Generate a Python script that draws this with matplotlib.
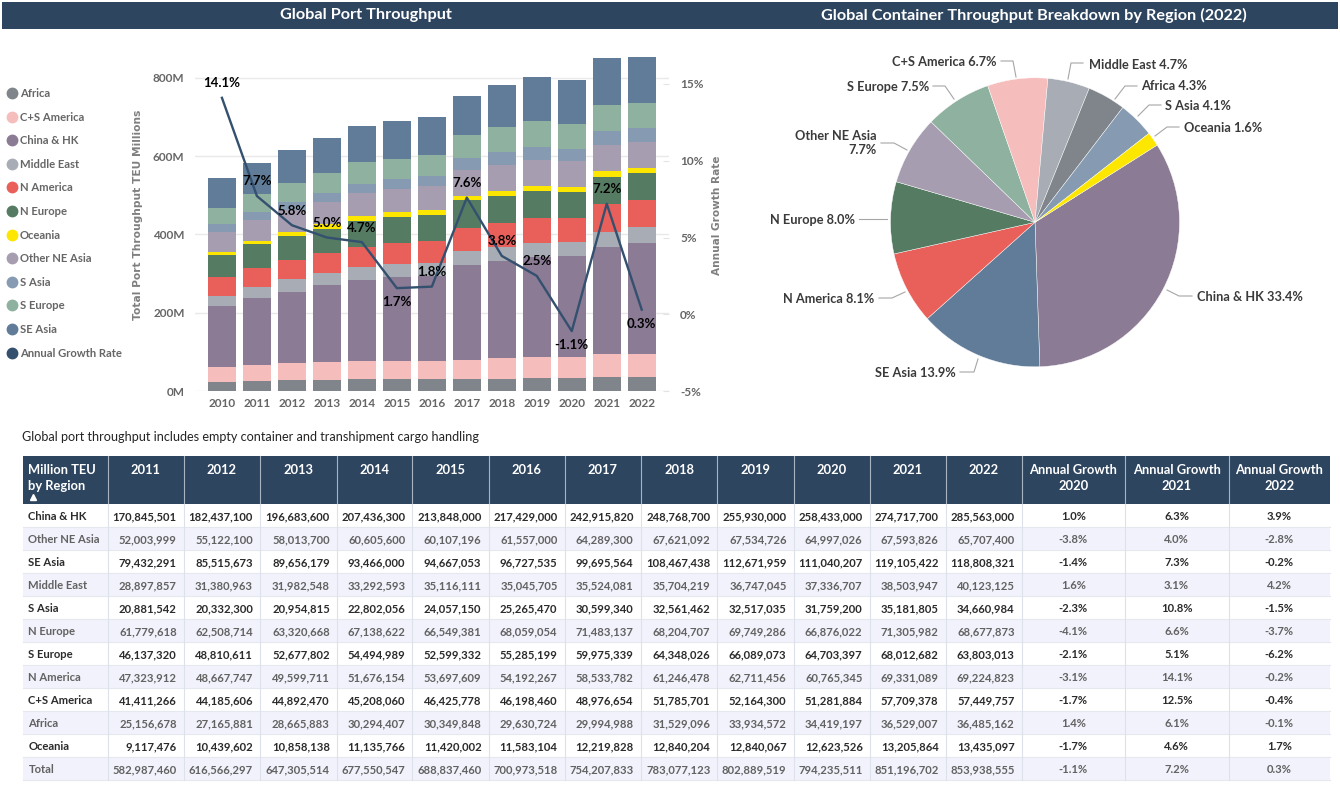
"""
plot.py - Global port throughput dashboard (stacked bars, pie, table).
"""

import matplotlib
matplotlib.use('Agg')
import matplotlib.pyplot as plt
from matplotlib.lines import Line2D
from matplotlib.patches import Rectangle
from matplotlib.ticker import FuncFormatter

plt.rcParams['font.family'] = ['Lato', 'DejaVu Sans']

W, H = 1340, 785

years = [2010, 2011, 2012, 2013, 2014, 2015, 2016, 2017, 2018, 2019, 2020, 2021, 2022]
table_years = years[1:]

# Table values 2011-2022 (TEU)
china_hk = [170845501, 182437100, 196683600, 207436300, 213848000, 217429000, 242915820, 248768700, 255930000, 258433000, 274717700, 285563000]
other_ne_asia = [52003999, 55122100, 58013700, 60605600, 60107196, 61557000, 64289300, 67621092, 67534726, 64997026, 67593826, 65707400]
se_asia = [79432291, 85515673, 89656179, 93466000, 94667053, 96727535, 99695564, 108467438, 112671959, 111040207, 119105422, 118808321]
middle_east = [28897857, 31380963, 31982548, 33292593, 35116111, 35045705, 35524081, 35704219, 36747045, 37336707, 38503947, 40123125]
s_asia = [20881542, 20332300, 20954815, 22802056, 24057150, 25265470, 30599340, 32561462, 32517035, 31759200, 35181805, 34660984]
n_europe = [61779618, 62508714, 63320668, 67138622, 66549381, 68059054, 71483137, 68204707, 69749286, 66876022, 71305982, 68677873]
s_europe = [46137320, 48810611, 52677802, 54494989, 52599332, 55285199, 59975339, 64348026, 66089073, 64703397, 68012682, 63803013]
n_america = [47323912, 48667747, 49599711, 51676154, 53697609, 54192267, 58533782, 61246478, 62711456, 60765345, 69331089, 69224823]
cs_america = [41411266, 44185606, 44892470, 45208060, 46425778, 46198460, 48976654, 51785701, 52164300, 51281884, 57709378, 57449757]
africa = [25156678, 27165881, 28665883, 30294407, 30349848, 29630724, 29994988, 31529096, 33934572, 34419197, 36529007, 36485162]
oceania = [9117476, 10439602, 10858138, 11135766, 11420002, 11583104, 12219828, 12840204, 12840067, 12623526, 13205864, 13435097]
totals = [582987460, 616566297, 647305514, 677550547, 688837460, 700973518, 754207833, 783077123, 802889519, 794235511, 851196702, 853938555]

# 2010 is not in the table (million TEU)
africa_2010 = 22
cs_america_2010 = 38.5
china_hk_2010 = 156
middle_east_2010 = 25.5
n_america_2010 = 48.5
n_europe_2010 = 56
oceania_2010 = 10
other_ne_asia_2010 = 49
s_asia_2010 = 20.5
s_europe_2010 = 41
se_asia_2010 = 77

growth_rate = [14.1, 7.7, 5.8, 5.0, 4.7, 1.7, 1.8, 7.6, 3.8, 2.5, -1.1, 7.2, 0.3]

# Annual growth columns, same order as table rows
growth_2020 = ['1.0%', '-3.8%', '-1.4%', '1.6%', '-2.3%', '-4.1%', '-2.1%', '-3.1%', '-1.7%', '1.4%', '-1.7%', '-1.1%']
growth_2021 = ['6.3%', '4.0%', '7.3%', '3.1%', '10.8%', '6.6%', '5.1%', '14.1%', '12.5%', '6.1%', '4.6%', '7.2%']
growth_2022 = ['3.9%', '-2.8%', '-0.2%', '4.2%', '-1.5%', '-3.7%', '-6.2%', '-0.2%', '-0.4%', '-0.1%', '1.7%', '0.3%']

HEADER = '#2E4560'
LABEL_GREY = '#7F7F7F'
TICK_GREY = '#666666'
TEXT_DARK = '#3A3A3A'
LINE_COLOR = '#34506F'

# Stack order, bottom to top
stack = [
    ('Africa', africa, africa_2010, '#7F858A'),
    ('C+S America', cs_america, cs_america_2010, '#F5BEBD'),
    ('China & HK', china_hk, china_hk_2010, '#8B7B95'),
    ('Middle East', middle_east, middle_east_2010, '#A8ADB5'),
    ('N America', n_america, n_america_2010, '#E9605B'),
    ('N Europe', n_europe, n_europe_2010, '#557B62'),
    ('Oceania', oceania, oceania_2010, '#FDE600'),
    ('Other NE Asia', other_ne_asia, other_ne_asia_2010, '#A69DB0'),
    ('S Asia', s_asia, s_asia_2010, '#869BB2'),
    ('S Europe', s_europe, s_europe_2010, '#8FB1A0'),
    ('SE Asia', se_asia, se_asia_2010, '#607C98'),
]
colors = {name: c for name, _, _, c in stack}


def px_axes(left, top, right, bottom):
    """Axes placed by pixel edges, y measured from the top of the image."""
    return fig.add_axes([left / W, 1 - bottom / H, (right - left) / W, (bottom - top) / H])


fig = plt.figure(figsize=(W / 100, H / 100), dpi=100, facecolor='white')

# Overlay in pixel coordinates for title bars, legend leaders and the table
bg = fig.add_axes([0, 0, 1, 1], zorder=0)
bg.set_xlim(0, W)
bg.set_ylim(H, 0)
bg.axis('off')

bg.add_patch(Rectangle((2, 2), 1336, 27, color=HEADER, lw=0))
bg.text(366, 15, 'Global Port Throughput', color='white', fontsize=11.7, fontweight='bold', ha='center', va='center')
bg.text(1034, 15, 'Global Container Throughput Breakdown by Region (2022)', color='white', fontsize=11.7,
        fontweight='bold', ha='center', va='center')

# --- Stacked bars with growth line ---
ax = px_axes(195, 50, 669, 391)
ax.set_zorder(1)
ax.patch.set_alpha(0)
bottom = [0.0] * len(years)
for name, values, v2010, color in stack:
    heights = [v2010] + [v / 1e6 for v in values]
    ax.bar(years, heights, width=0.8, bottom=bottom, color=color, zorder=2, label=name)
    bottom = [b + h for b, h in zip(bottom, heights)]

ax.set_xlim(2010 - 0.77, 2022 + 0.78)
ax.set_ylim(0, 341 / 0.39125)
ax.set_yticks([0, 200, 400, 600, 800])
ax.yaxis.set_major_formatter(FuncFormatter(lambda v, _: f'{v:.0f}M'))
ax.set_xticks(years)
ax.grid(axis='y', color='#E9E9E9', lw=1, zorder=0)
ax.tick_params(length=0, labelsize=8.5, labelcolor=TICK_GREY, pad=5)
ax.tick_params(axis='y', pad=7.5)
for lab in ax.get_xticklabels() + ax.get_yticklabels():
    lab.set_fontweight('bold')
for s in ax.spines.values():
    s.set_visible(False)
ax.set_ylabel('Total Port Throughput TEU Millions', family='DejaVu Sans', fontsize=7.7, fontweight='bold',
              color=LABEL_GREY)
ax.yaxis.set_label_coords(-52 / 474, 0.516)

ax2 = ax.twinx()
ax2.set_ylim(-5, -5 + 341 / 15.35)
ax2.set_yticks([-5, 0, 5, 10, 15])
ax2.yaxis.set_major_formatter(FuncFormatter(lambda v, _: f'{v:.0f}%'))
ax2.tick_params(axis='y', direction='in', length=4.5, color='#E4E4E4', labelsize=8.5, labelcolor=TICK_GREY, pad=8)
for lab in ax2.get_yticklabels():
    lab.set_fontweight('bold')
for s in ax2.spines.values():
    s.set_visible(False)
ax2.set_ylabel('Annual Growth Rate', family='DejaVu Sans', fontsize=7.6, fontweight='bold', color=LABEL_GREY)
ax2.yaxis.set_label_coords(1 + 42.5 / 474, 0.516)
ax2.plot(years, growth_rate, color=LINE_COLOR, lw=1.7, zorder=5)

below = {2015, 2020, 2022}
for yr, g in zip(years, growth_rate):
    dy = -10 if yr in below else 10.5
    ax2.annotate(f'{g:.1f}%', (yr, g), xytext=(0, dy), textcoords='offset points', ha='center', va='center',
                 fontsize=9.5, fontweight='bold', color='black', zorder=6)

# --- Legend ---
handles = [Line2D([], [], ls='none', marker='o', ms=7.5, color=c, label=n) for n, _, _, c in stack]
handles.append(Line2D([], [], ls='none', marker='o', ms=7.5, color=LINE_COLOR, label='Annual Growth Rate'))
leg = fig.legend(handles=handles, loc='upper left', bbox_to_anchor=(5 / W, 1 - 88 / H), frameon=False,
                 labelspacing=1.12, handletextpad=0.1, handlelength=1.2, borderpad=0, borderaxespad=0,
                 labelcolor=TICK_GREY, prop={'weight': 'bold', 'size': 8.1})

# --- Pie ---
pie_regions = ['China & HK', 'SE Asia', 'N America', 'N Europe', 'Other NE Asia', 'S Europe', 'C+S America',
               'Middle East', 'Africa', 'S Asia', 'Oceania']
pie_values = [china_hk[-1], se_asia[-1], n_america[-1], n_europe[-1], other_ne_asia[-1], s_europe[-1],
              cs_america[-1], middle_east[-1], africa[-1], s_asia[-1], oceania[-1]]
pie_total = sum(pie_values)

ax_pie = px_axes(1035 - 144.5, 222.3 - 144.5, 1035 + 144.5, 222.3 + 144.5)
ax_pie.pie(pie_values, colors=[colors[r] for r in pie_regions], startangle=32.3, counterclock=False,
           wedgeprops={'edgecolor': 'white', 'linewidth': 0.3})
ax_pie.set_xlim(-1, 1)
ax_pie.set_ylim(-1, 1)

# label anchor (x, y, ha) and leader polyline, in image pixels
pie_labels = {
    'China & HK': (1197, 297, 'left', [(1192, 296), (1179, 296), (1167, 290)]),
    'SE Asia': (955.5, 373, 'right', [(960, 372), (974, 372), (978, 359)]),
    'N America': (874.5, 299, 'right', [(879, 298), (892, 298), (905, 292)]),
    'N Europe': (855.5, 220, 'right', [(859, 219), (887, 219)]),
    'Other NE Asia': (876.5, 143, 'right', [(881, 143), (894, 143), (907, 150)]),
    'S Europe': (929, 87, 'right', [(933, 86), (945, 86), (954, 99)]),
    'C+S America': (996.5, 62, 'right', [(1001, 61), (1013, 61), (1016, 77)]),
    'Middle East': (1089, 65, 'left', [(1083, 63), (1071, 63), (1068, 79)]),
    'Africa': (1141, 86, 'left', [(1137, 86), (1125, 86), (1115, 99)]),
    'S Asia': (1165, 106, 'left', [(1161, 105), (1149, 105), (1138, 116)]),
    'Oceania': (1184, 128, 'left', [(1179, 127), (1167, 127), (1155, 136)]),
}
for region, value in zip(pie_regions, pie_values):
    x, y, ha, leader = pie_labels[region]
    pct = f'{value / pie_total * 100:.1f}%'
    sep = '\n' if region == 'Other NE Asia' else ' '
    bg.text(x, y, f'{region}{sep}{pct}', ha=ha, va='center', fontsize=9.2, fontweight='bold', color=TEXT_DARK,
            linespacing=1.15)
    bg.plot([p[0] for p in leader], [p[1] for p in leader], color='#A6A6A6', lw=0.8)

# --- Table ---
bg.text(22, 437, 'Global port throughput includes empty container and transhipment cargo handling', fontsize=9.1,
        color='#252423', va='center')

col_edges = [23, 107.7, 183.8, 260, 336.8, 412.4, 488.5, 564.5, 640.6, 717.4, 793.5, 869.6, 945.6, 1021.7, 1124.7,
             1228.5, 1330]
head_top, head_bottom, row_h = 456, 504, 23

bg.add_patch(Rectangle((col_edges[0], head_top), col_edges[-1] - col_edges[0], head_bottom - head_top, color=HEADER, lw=0))
bg.text(28.5, 469.5, 'Million TEU', color='white', fontsize=9.3, fontweight='bold', va='center')
bg.text(28.5, 485.5, 'by Region', color='white', fontsize=9.3, fontweight='bold', va='center')
bg.plot([33], [497], marker='^', ms=4, color='white')

for i, yr in enumerate(table_years):
    cx = (col_edges[i + 1] + col_edges[i + 2]) / 2
    bg.text(cx, 469.5, str(yr), color='white', fontsize=9.3, fontweight='bold', ha='center', va='center')
for i, yr in enumerate([2020, 2021, 2022]):
    cx = (col_edges[13 + i] + col_edges[14 + i]) / 2
    bg.text(cx, 469.5, 'Annual Growth', color='white', fontsize=9.3, fontweight='bold', ha='center', va='center')
    bg.text(cx, 485.5, str(yr), color='white', fontsize=9.3, fontweight='bold', ha='center', va='center')

rows = [
    ('China & HK', china_hk), ('Other NE Asia', other_ne_asia), ('SE Asia', se_asia), ('Middle East', middle_east),
    ('S Asia', s_asia), ('N Europe', n_europe), ('S Europe', s_europe), ('N America', n_america),
    ('C+S America', cs_america), ('Africa', africa), ('Oceania', oceania), ('Total', totals),
]
for r, (name, values) in enumerate(rows):
    top = head_bottom + r * row_h
    mid = top + row_h / 2 + 1.3
    if r % 2:
        bg.add_patch(Rectangle((col_edges[0], top), col_edges[-1] - col_edges[0], row_h, color='#F2F2FC', lw=0))
    color = '#626262' if r % 2 else '#2B2B2B'
    bg.text(28.5, mid, name, fontsize=8.1, fontweight='bold', color=color, va='center')
    for i, v in enumerate(values):
        bg.text(col_edges[i + 2] - 7, mid, f'{v:,}', fontsize=8.1, fontweight='bold', color=color, ha='right', va='center')
    for i, g in enumerate((growth_2020[r], growth_2021[r], growth_2022[r])):
        cx = (col_edges[13 + i] + col_edges[14 + i]) / 2
        bg.text(cx, mid, g, fontsize=8.1, fontweight='bold', color=color, ha='center', va='center')
    bg.plot([col_edges[0], col_edges[-1]], [top + row_h] * 2, color='#E6E8F0', lw=0.8)

for x in col_edges[1:-1]:
    bg.plot([x, x], [head_top, head_bottom], color='#A9B4C2', lw=0.8)
    bg.plot([x, x], [head_bottom, head_bottom + 12 * row_h], color='#DDE2EA', lw=0.8)

fig.savefig('out.png', dpi=100, facecolor='white')
